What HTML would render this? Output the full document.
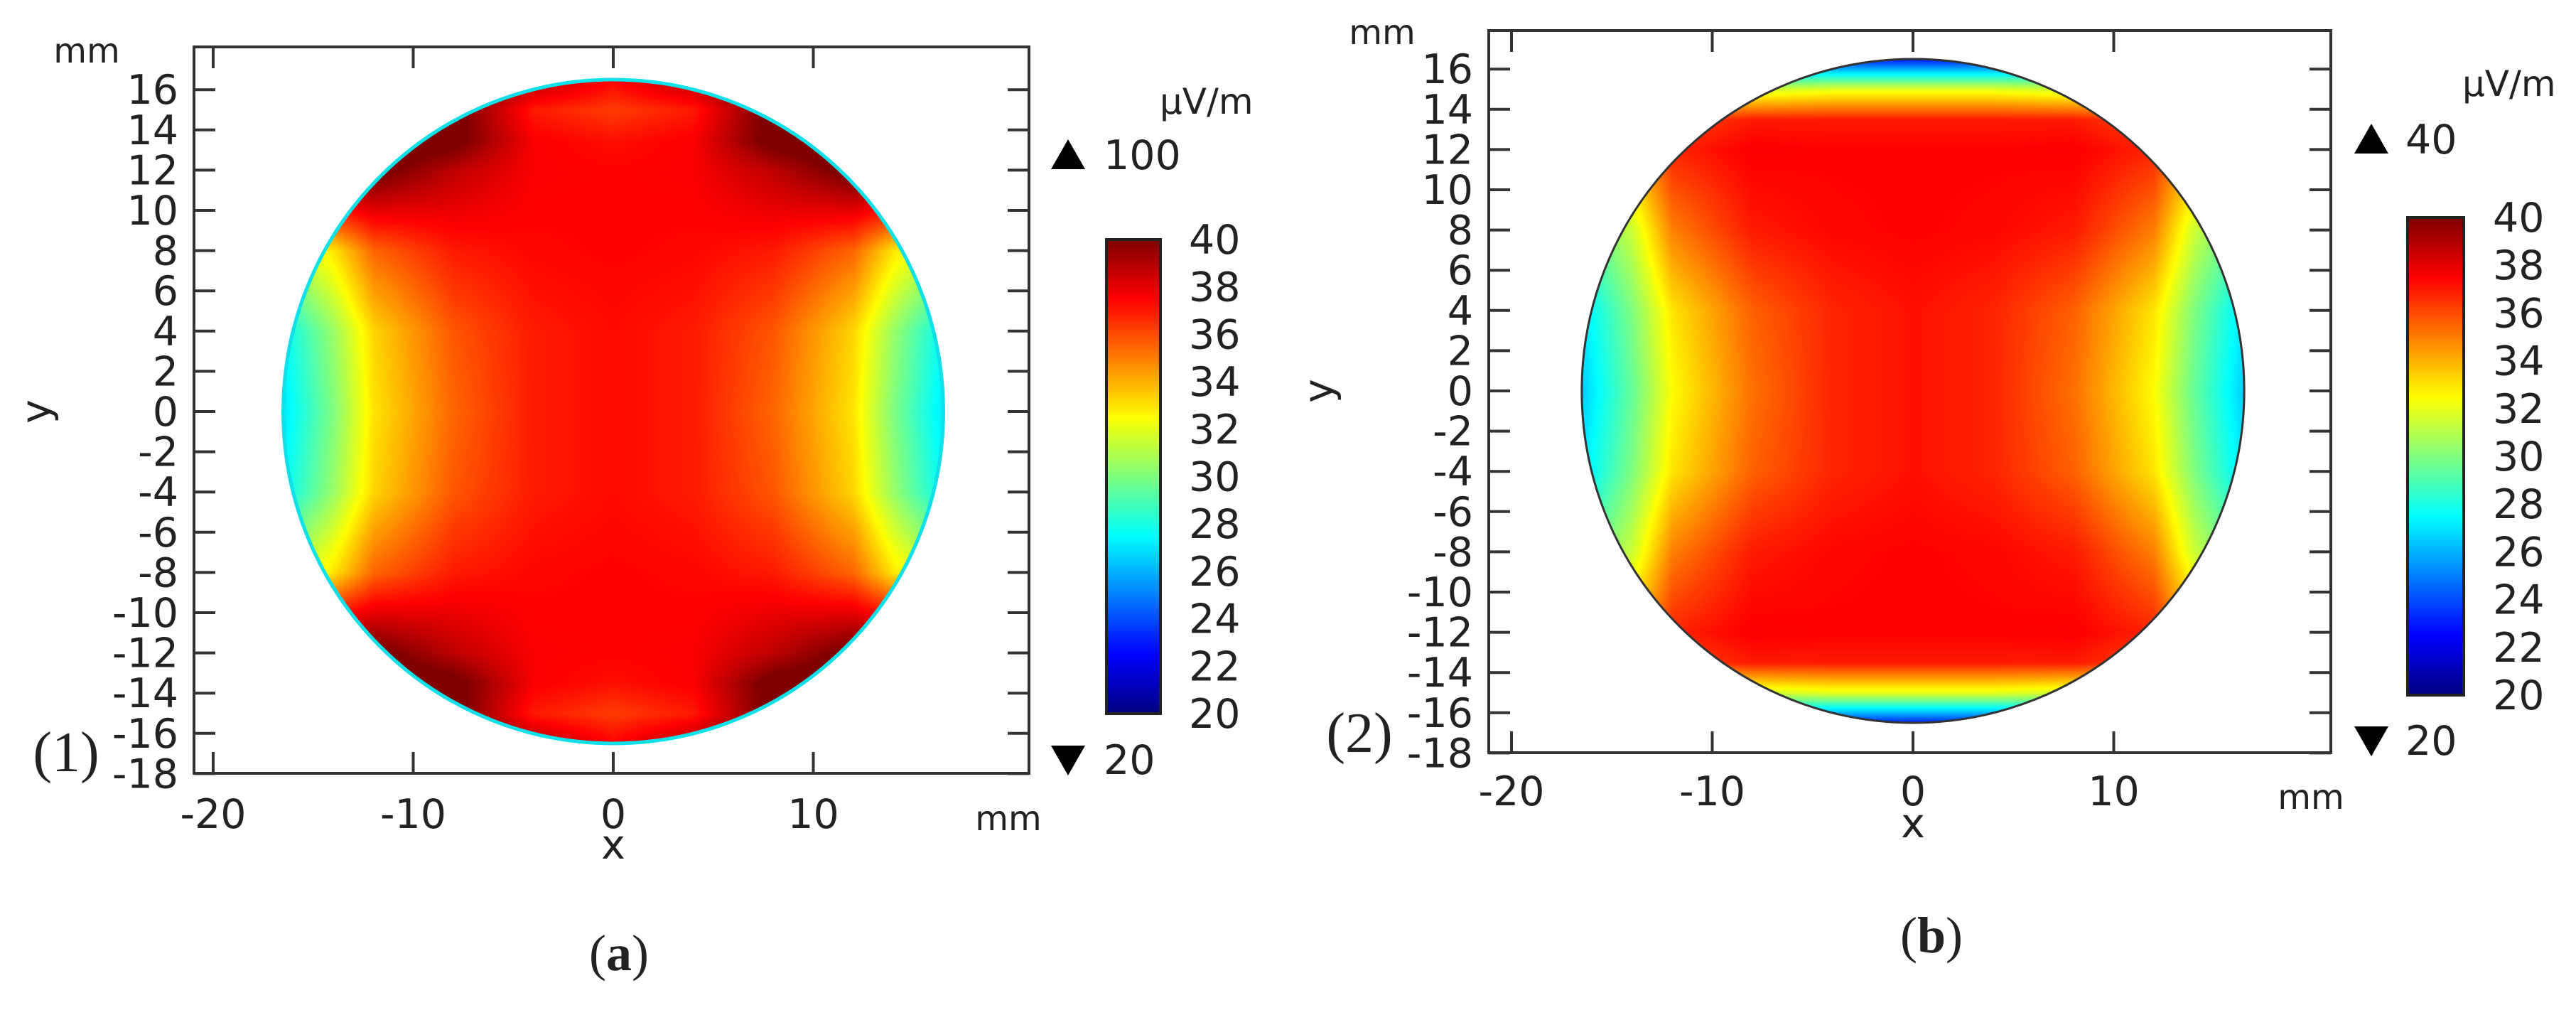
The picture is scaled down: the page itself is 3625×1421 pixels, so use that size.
<!DOCTYPE html>
<html><head><meta charset="utf-8">
<style>
html,body{margin:0;padding:0;background:#fff;}
#wrap{position:relative;width:3625px;height:1421px;overflow:hidden;background:#fff;}
canvas,svg{position:absolute;left:0;top:0;}
text{font-family:"DejaVu Sans","Liberation Sans",sans-serif;fill:#222;}
.serif{font-family:"Liberation Serif","DejaVu Serif",serif;}
</style></head>
<body>
<div id="wrap">
<canvas id="cv" width="3625" height="1421"></canvas>
<svg id="sv" width="3625" height="1421"></svg>
</div>
<script>
// grid coordinates (mm, quadrant, mirrored by symmetry)
const gridX = [0, 4, 8, 12, 14, 16.5];
const gridY = [0, 4, 8, 12, 13.5, 15, 16.5];
// panel (a) field values µV/m, rows = gridY
const fieldA = [
  [37.3, 37, 35.5, 33, 30, 27],
  [37.3, 37, 35.8, 33.3, 30.5, 27.5],
  [37.5, 37.4, 37, 35.5, 33, 31],
  [37.5, 37.6, 38.8, 40.5, 41, 41],
  [37.2, 37.6, 40.5, 41, 41, 41],
  [36.3, 37, 40.5, 41, 41, 41],
  [37.5, 39, 41, 41, 41, 41]
];
// panel (b) field values µV/m
const fieldB = [
  [37.2, 36.8, 35.3, 32.5, 29.5, 26.5],
  [37.2, 36.8, 35.6, 33, 30, 27],
  [37.5, 37.4, 37, 35, 31.5, 29],
  [37.5, 37.5, 37.6, 36.8, 34, 32],
  [37, 37, 37, 36, 34, 32],
  [32, 32, 31.5, 31, 30, 30],
  [23, 23, 24, 26, 28, 28]
];
const yTicks = [16,14,12,10,8,6,4,2,0,-2,-4,-6,-8,-10,-12,-14,-16,-18];
const xTicks = [-20,-10,0,10];
const cbTicks = [40,38,36,34,32,30,28,26,24,22,20];
const radius = 16.5;
const cbMin = 20, cbMax = 40;

const panels = [
  {id:'a', field:fieldA, L:273, R:1448, T:66, B:1088, x0:863, y0:579, sx:28.15, sy:28.3,
   ring:'#10e0e8', ringW:5, cb:[1557,337,1633,1004], maxTxt:'100', maxY:218, minY:1069,
   triX:1503, numX:1553, unitX:1632, unitY:160, mmTop:[122,88], mmBot:[1419,1168],
   xlabY:1165, xTitleY:1208, yTitleX:52, tag:'(1)', tagX:93, tagY:1085, cap:'a', capX:871, capY:1365, cbLabX:1673},
  {id:'b', field:fieldB, L:2095, R:3280, T:43, B:1059, x0:2692, y0:550, sx:28.25, sy:28.3,
   ring:'#333', ringW:3, cb:[3388,306,3467,978], maxTxt:'40', maxY:196, minY:1042,
   triX:3337, numX:3385, unitX:3465, unitY:135, mmTop:[1945,62], mmBot:[3252,1138],
   xlabY:1133, xTitleY:1178, yTitleX:1857, tag:'(2)', tagX:1913, tagY:1058, cap:'b', capX:2718, capY:1340, cbLabX:3508}
];

function jet(v){
  let t=(v-cbMin)/(cbMax-cbMin); t=Math.max(0,Math.min(1,t));
  const f=(c)=>Math.max(0,Math.min(1,c));
  const r=f(Math.min(4*t-1.5,-4*t+4.5));
  const g=f(Math.min(4*t-0.5,-4*t+3.5));
  const b=f(Math.min(4*t+0.5,-4*t+2.5));
  return [r*255,g*255,b*255];
}
function seg(arr,v){
  for(let i=0;i<arr.length-1;i++){ if(v<=arr[i+1]) return [i,(v-arr[i])/(arr[i+1]-arr[i])]; }
  return [arr.length-2,1];
}
function sample(field,x,y){
  const ax=Math.min(Math.abs(x),16.5), ay=Math.min(Math.abs(y),16.5);
  const [i,fx]=seg(gridX,ax), [j,fy]=seg(gridY,ay);
  const a=field[j][i], b=field[j][i+1], c=field[j+1][i], d=field[j+1][i+1];
  return (a*(1-fx)+b*fx)*(1-fy)+(c*(1-fx)+d*fx)*fy;
}

const cv=document.getElementById('cv'); const ctx=cv.getContext('2d');
panels.forEach(p=>{
  const rx=radius*p.sx, ry=radius*p.sy;
  const xs=Math.floor(p.x0-rx-2), ys=Math.floor(p.y0-ry-2);
  const w=Math.ceil(2*rx+4), h=Math.ceil(2*ry+4);
  const img=ctx.createImageData(w,h);
  for(let py=0;py<h;py++){
    for(let px=0;px<w;px++){
      const X=(xs+px-p.x0)/p.sx, Y=-(ys+py-p.y0)/p.sy;
      const k=(py*w+px)*4;
      if(X*X+Y*Y<=radius*radius){
        const c=jet(sample(p.field,X,Y));
        img.data[k]=c[0];img.data[k+1]=c[1];img.data[k+2]=c[2];img.data[k+3]=255;
      } else {img.data[k]=255;img.data[k+1]=255;img.data[k+2]=255;img.data[k+3]=255;}
    }
  }
  ctx.putImageData(img,xs,ys);
  const [cx1,cy1,cx2,cy2]=p.cb;
  for(let yy=cy1;yy<cy2;yy++){
    const v=cbMax-(yy-cy1)/(cy2-cy1)*(cbMax-cbMin);
    const c=jet(v); ctx.fillStyle=`rgb(${c[0]|0},${c[1]|0},${c[2]|0})`;
    ctx.fillRect(cx1,yy,cx2-cx1,1);
  }
});

const NS='http://www.w3.org/2000/svg'; const sv=document.getElementById('sv');
function el(tag,attrs,txt){const e=document.createElementNS(NS,tag);for(const k in attrs)e.setAttribute(k,attrs[k]);if(txt!==undefined)e.textContent=txt;sv.appendChild(e);return e;}

panels.forEach(p=>{
  const X=v=>p.x0+v*p.sx, Y=v=>p.y0-v*p.sy;
  let e;
  e=el('ellipse',{cx:p.x0,cy:p.y0,rx:radius*p.sx,ry:radius*p.sy,fill:'none',stroke:p.ring,'stroke-width':p.ringW});
  
  
  e=el('rect',{x:p.L,y:p.T,width:p.R-p.L,height:p.B-p.T,fill:'none',stroke:'#333','stroke-width':4});
  
  
  yTicks.forEach(t=>{
    const y=Y(t);
    e=el('line',{x1:p.L,y1:y,x2:p.L+30,y2:y,stroke:'#333','stroke-width':4});
    
    
    e=el('line',{x1:p.R,y1:y,x2:p.R-30,y2:y,stroke:'#333','stroke-width':4});
    
    
    e=el('text',{x:p.L-22,y:y+20,'font-size':57,'text-anchor':'end'},String(t));
    
    
  });
  xTicks.forEach(t=>{
    const x=X(t);
    e=el('line',{x1:x,y1:p.B,x2:x,y2:p.B-30,stroke:'#333','stroke-width':4});
    
    
    e=el('line',{x1:x,y1:p.T,x2:x,y2:p.T+30,stroke:'#333','stroke-width':4});
    
    
    e=el('text',{x:x,y:p.xlabY,'font-size':57,'text-anchor':'middle'},String(t));
    
    
  });
  e=el('text',{x:p.x0,y:p.xTitleY,'font-size':57,'text-anchor':'middle'},'x');
  
  
  e=el('text',{x:p.yTitleX,y:Y(0),'font-size':57,'text-anchor':'middle',transform:`rotate(-90 ${p.yTitleX} ${Y(0)})`,dy:18},'y');
  
  
  e=el('text',{x:p.mmTop[0],y:p.mmTop[1],'font-size':48,'text-anchor':'middle'},'mm');
  
  
  e=el('text',{x:p.mmBot[0],y:p.mmBot[1],'font-size':48,'text-anchor':'middle'},'mm');
  
  
  const [cx1,cy1,cx2,cy2]=p.cb;
  e=el('rect',{x:cx1,y:cy1,width:cx2-cx1,height:cy2-cy1,fill:'none',stroke:'#222','stroke-width':4});
  
  
  cbTicks.forEach(t=>{
    const y=cy1+(cbMax-t)/(cbMax-cbMin)*(cy2-cy1);
    e=el('text',{x:p.cbLabX,y:y+20,'font-size':57},String(t));
    
    
  });
  e=el('text',{x:p.unitX,y:p.unitY,'font-size':50},'µV/m');
  
  
  e=el('polygon',{points:`${p.triX-24},${p.maxY+20} ${p.triX+24},${p.maxY+20} ${p.triX},${p.maxY-22}`,fill:'#000'});
  
  
  e=el('text',{x:p.numX,y:p.maxY+20,'font-size':57},p.maxTxt);
  
  
  e=el('polygon',{points:`${p.triX-24},${p.minY-20} ${p.triX+24},${p.minY-20} ${p.triX},${p.minY+22}`,fill:'#000'});
  
  
  e=el('text',{x:p.numX,y:p.minY+20,'font-size':57},'20');
  
  
  e=el('text',{x:p.tagX,y:p.tagY,'font-size':80,'text-anchor':'middle',class:'serif'},p.tag);
  
  
  e=el('text',{x:p.capX,y:p.capY,'font-size':72,'text-anchor':'middle',class:'serif'});
  
  
  const t1=document.createElementNS(NS,'tspan');t1.textContent='(';e.appendChild(t1);
  const t2=document.createElementNS(NS,'tspan');t2.setAttribute('font-weight','bold');t2.textContent=p.cap;e.appendChild(t2);
  const t3=document.createElementNS(NS,'tspan');t3.textContent=')';e.appendChild(t3);
});
</script>
</body></html>
